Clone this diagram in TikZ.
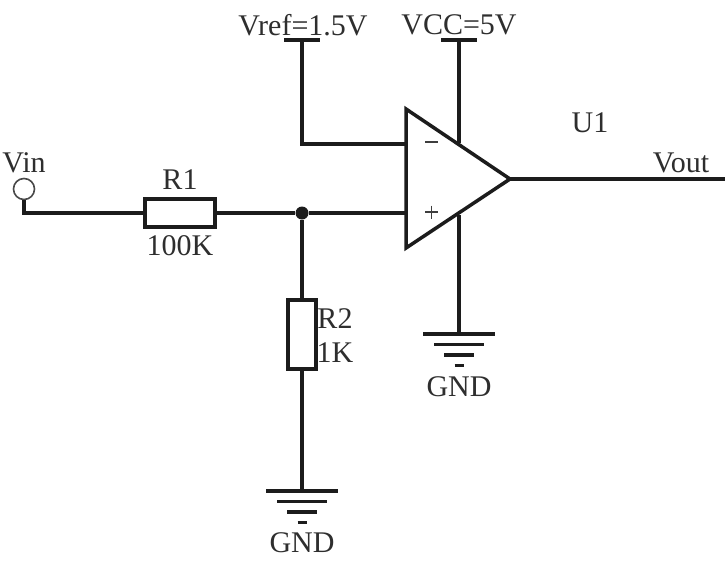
\documentclass[tikz,border=0pt]{standalone}
\usepackage{fontspec}
\setmainfont{Liberation Serif}
\definecolor{ink}{HTML}{1C1C1C}
\definecolor{txt}{HTML}{2E2E2E}
\tikzset{
  wire/.style={draw=ink,line width=3.3pt,line cap=butt,line join=miter},
  res/.style={draw=ink,line width=3.3pt,fill=white,inner sep=0pt,outer sep=0pt},
  lab/.style={text=txt,font=\fontsize{30}{32}\selectfont,inner sep=0pt},
  junction/.style={circle,fill=ink,inner sep=0pt,minimum size=13pt},
  port/.style={circle,draw=ink!80,line width=1.6pt,fill=white,inner sep=0pt,minimum size=21pt},
  pt/.style={coordinate}
}
\newcommand{\gndsym}[1]{%
  \draw[wire] ([xshift=-36pt]#1) -- ([xshift=36pt]#1);
  \draw[wire] ([xshift=-25pt,yshift=-10.5pt]#1) -- ([xshift=25pt,yshift=-10.5pt]#1);
  \draw[wire] ([xshift=-15pt,yshift=-21pt]#1) -- ([xshift=15pt,yshift=-21pt]#1);
  \draw[wire] ([xshift=-4.5pt,yshift=-31.5pt]#1) -- ([xshift=4.5pt,yshift=-31.5pt]#1);
}
\begin{document}
\begin{tikzpicture}[x=1pt,y=-1pt]
\useasboundingbox[fill=white] (0,0) rectangle (725,565);
% coordinates
\node[pt] (refbar) at (302,40) {};
\node[pt] (vccbar) at (459,40) {};
\node[pt] (refcorner) at (302,144) {};
\node[pt] (inminus) at (406,144) {};
\node[pt] (inplus) at (406,213) {};
\node[pt] (vcctop) at (459,143) {};
\node[pt] (vccbot) at (459,215) {};
\node[pt] (gnda) at (459,334) {};
\node[pt] (gndb) at (302,491) {};
\node[pt] (out) at (510,179) {};
\node[pt] (voutend) at (725,179) {};
\node[pt] (vincorner) at (24,213) {};
\node[pt] (opa) at (406,109) {};
\node[pt] (opb) at (406,248) {};
% parts
\node[port] (vin) at (24,189) {};
\node[res,minimum width=70pt,minimum height=28pt] (r1) at (180,213) {};
\node[res,minimum width=28pt,minimum height=69pt] (r2) at (302,334.5) {};
\node[junction] (jn) at (302,213) {};
% wires
\draw[wire] (vin.south) -- (vincorner) -- (r1.west);
\draw[wire] (r1.east) -- (jn) -- (inplus);
\draw[wire] (jn) -- (r2.north);
\draw[wire] (r2.south) -- (gndb);
\draw[wire] (refbar) -- (refcorner) -- (inminus);
\draw[wire] (vccbar) -- (vcctop);
\draw[wire] (vccbot) -- (gnda);
\draw[wire] (out) -- (voutend);
\draw[wire] ([xshift=-18pt]refbar) -- ([xshift=18pt]refbar);
\draw[wire] ([xshift=-18pt]vccbar) -- ([xshift=18pt]vccbar);
\draw[wire,line width=3.5pt] (opa) -- (out) -- (opb) -- cycle;
\gndsym{gnda}
\gndsym{gndb}
% op-amp signs
\node[pt] (ma) at (425,142) {};
\node[pt] (mb) at (438,142) {};
\node[pt] (pa) at (425,212) {};
\node[pt] (pb) at (438,212) {};
\node[pt] (pc) at (431.5,205.5) {};
\node[pt] (pd) at (431.5,218.5) {};
\draw[draw=ink!85,line width=1.5pt] (ma) -- (mb);
\draw[draw=ink!85,line width=1.5pt] (pa) -- (pb);
\draw[draw=ink!85,line width=1.5pt] (pc) -- (pd);
% labels
\node[lab] (tvin) at (24,163) {Vin};
\node[lab] (tr1) at (180,180) {R1};
\node[lab] (t100k) at (180,246) {100K};
\node[lab] (tr2) at (335,319) {R2};
\node[lab] (t1k) at (335,353) {1K};
\node[lab] (tu1) at (590,123) {U1};
\node[lab] (tvout) at (681,163) {Vout};
\node[lab] (tref) at (303,25) {Vref=1.5V};
\node[lab] (tvcc) at (459,25) {VCC=5V};
\node[lab] (tga) at (459,387) {GND};
\node[lab] (tgb) at (302,543) {GND};
\end{tikzpicture}
\end{document}
